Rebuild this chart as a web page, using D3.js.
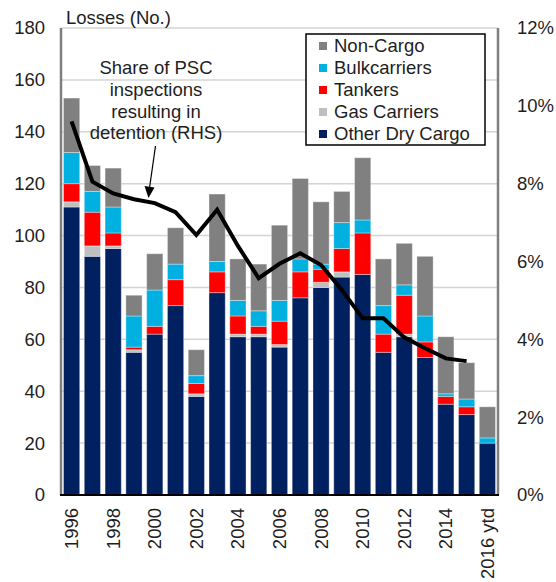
<!DOCTYPE html>
<html>
<head>
<meta charset="utf-8">
<script src="https://cdn.jsdelivr.net/npm/d3@7"></script>
<style>
  body { margin: 0; background: #fff; }
  text { font-family: "Liberation Sans", Arial, sans-serif; fill: #1e1e1e; }
</style>
</head>
<body>
<svg id="chart" width="556" height="582"></svg>
<script>
// losses by ship type, stacked bottom to top
var years = ["1996","1997","1998","1999","2000","2001","2002","2003","2004","2005","2006",
             "2007","2008","2009","2010","2011","2012","2013","2014","2015","2016 ytd"];
var otherDryCargo = [111, 92, 95, 55, 62, 73, 38, 78, 61, 61, 57, 76, 80, 84, 85, 55, 61, 53, 35, 31, 20];
var gasCarriers   = [  2,  4,  1,  1,  0,  0,  1,  0,  1,  1,  1,  0,  2,  2,  0,  0,  1,  0,  0,  0,  0];
var tankers       = [  7, 13,  5,  1,  3, 10,  4,  8,  7,  3,  9, 10,  5,  9, 16,  7, 15,  6,  3,  3,  0];
var bulkcarriers  = [ 12,  8, 10, 12, 14,  6,  3,  4,  6,  6,  8,  5,  2, 10,  5, 11,  4, 10,  1,  3,  2];
var nonCargo      = [ 21, 10, 15,  8, 14, 14, 10, 26, 16, 18, 29, 31, 24, 12, 24, 18, 16, 23, 22, 14, 12];

// share of PSC inspections resulting in detention (%), 1996-2015
var detentionShare = [9.6, 8.05, 7.75, 7.6, 7.5, 7.27, 6.68, 7.33, 6.4, 5.57, 5.94, 6.21, 5.91, 5.27, 4.54, 4.54, 4.05, 3.77, 3.51, 3.44];

var leftTicks = [0, 20, 40, 60, 80, 100, 120, 140, 160, 180];
var rightTicks = [0, 2, 4, 6, 8, 10, 12];
var xLabelYears = ["1996","1998","2000","2002","2004","2006","2008","2010","2012","2014","2016 ytd"];

var seriesKeys = ["Other Dry Cargo", "Gas Carriers", "Tankers", "Bulkcarriers", "Non-Cargo"];
var seriesColors = ["#002060", "#bfbfbf", "#ff0000", "#00b0e0", "#808080"];
var legendOrder = ["Non-Cargo", "Bulkcarriers", "Tankers", "Gas Carriers", "Other Dry Cargo"];

var rows = years.map(function(y, i) {
  return {
    year: y,
    "Other Dry Cargo": otherDryCargo[i],
    "Gas Carriers": gasCarriers[i],
    "Tankers": tankers[i],
    "Bulkcarriers": bulkcarriers[i],
    "Non-Cargo": nonCargo[i]
  };
});

var svg = d3.select("#chart");
var plotLeft = 61, plotRight = 498, plotTop = 28, plotBottom = 495;

var x = d3.scaleBand().domain(years).range([plotLeft, plotRight]).paddingInner(0.22).paddingOuter(0.12);
var y = d3.scaleLinear().domain([0, 180]).range([plotBottom, plotTop]);
var y2 = d3.scaleLinear().domain([0, 12]).range([plotBottom, plotTop]);
var color = d3.scaleOrdinal().domain(seriesKeys).range(seriesColors);

// gridlines
svg.append("g").selectAll("line")
    .data(leftTicks.filter(function(d) { return d > 0; }))
  .enter().append("line")
    .attr("x1", plotLeft).attr("x2", plotRight)
    .attr("y1", function(d) { return y(d); })
    .attr("y2", function(d) { return y(d); })
    .attr("stroke", "#d4d4d4")
    .attr("stroke-width", 1.5);

// bars
var stack = d3.stack().keys(seriesKeys);
var layers = svg.append("g").selectAll("g")
    .data(stack(rows))
  .enter().append("g")
    .attr("fill", function(d) { return color(d.key); });

layers.selectAll("rect")
    .data(function(d) { return d.filter(function(p) { return p[1] > p[0]; }); })
  .enter().append("rect")
    .attr("x", function(d) { return x(d.data.year); })
    .attr("width", x.bandwidth())
    .attr("y", function(d) { return y(d[1]); })
    .attr("height", function(d) { return y(d[0]) - y(d[1]); })
    .attr("stroke", "#ffffff")
    .attr("stroke-opacity", 0.35)
    .attr("stroke-width", 1);

// axis lines
svg.append("line").attr("x1", plotLeft).attr("x2", plotLeft).attr("y1", plotTop).attr("y2", plotBottom)
    .attr("stroke", "#7f7f7f").attr("stroke-width", 2.5);
svg.append("line").attr("x1", plotRight).attr("x2", plotRight).attr("y1", plotTop).attr("y2", plotBottom)
    .attr("stroke", "#7f7f7f").attr("stroke-width", 2.5);
svg.append("line").attr("x1", plotLeft - 1).attr("x2", plotRight + 1).attr("y1", plotBottom).attr("y2", plotBottom)
    .attr("stroke", "#000").attr("stroke-width", 2);

// detention line
var line = d3.line()
    .x(function(d, i) { return x(years[i]) + x.bandwidth() / 2; })
    .y(function(d) { return y2(d); });

svg.append("path")
    .datum(detentionShare)
    .attr("d", line)
    .attr("fill", "none")
    .attr("stroke", "#000")
    .attr("stroke-width", 4)
    .attr("stroke-linejoin", "miter");

// left tick labels
svg.append("g").selectAll("text")
    .data(leftTicks)
  .enter().append("text")
    .attr("x", 45)
    .attr("y", function(d) { return y(d); })
    .attr("dy", "0.35em")
    .attr("text-anchor", "end")
    .style("font-size", "18.5px")
    .text(function(d) { return d; });

// right tick labels
svg.append("g").selectAll("text")
    .data(rightTicks)
  .enter().append("text")
    .attr("x", 517)
    .attr("y", function(d) { return y2(d); })
    .attr("dy", "0.35em")
    .style("font-size", "18.5px")
    .text(function(d) { return d + "%"; });

// x labels
svg.append("g").selectAll("text")
    .data(xLabelYears)
  .enter().append("text")
    .attr("transform", function(d) {
      return "translate(" + (x(d) + x.bandwidth() / 2) + "," + 508 + ") rotate(-90)";
    })
    .attr("dy", "0.35em")
    .attr("text-anchor", "end")
    .style("font-size", "18.5px")
    .text(function(d) { return d; });

// axis title
svg.append("text")
    .attr("x", 66).attr("y", 24)
    .style("font-size", "18.5px")
    .text("Losses (No.)");

// annotation
var note = ["Share of PSC", "inspections", "resulting in", "detention (RHS)"];
svg.append("g").selectAll("text")
    .data(note)
  .enter().append("text")
    .attr("x", 156)
    .attr("y", function(d, i) { return 74 + i * 21.8; })
    .attr("text-anchor", "middle")
    .style("font-size", "18.5px")
    .text(function(d) { return d; });

svg.append("line")
    .attr("x1", 155.5).attr("y1", 146).attr("x2", 149.5).attr("y2", 188)
    .attr("stroke", "#000").attr("stroke-width", 1.2);
svg.append("path")
    .attr("d", "M144.5,186 L154.5,187.5 L148.5,198 Z")
    .attr("fill", "#000");

// legend
var legend = svg.append("g");
legend.append("rect")
    .attr("x", 306).attr("y", 34).attr("width", 179).attr("height", 111)
    .attr("fill", "#fff").attr("stroke", "#000").attr("stroke-width", 1.5);

var item = legend.selectAll("g.item")
    .data(legendOrder)
  .enter().append("g")
    .attr("class", "item")
    .attr("transform", function(d, i) { return "translate(0," + (46 + i * 22) + ")"; });

item.append("rect")
    .attr("x", 319).attr("y", -4).attr("width", 8).attr("height", 8)
    .attr("fill", function(d) { return color(d); });

item.append("text")
    .attr("x", 334)
    .attr("dy", "0.35em")
    .style("font-size", "18.5px")
    .text(function(d) { return d; });
</script>
</body>
</html>
